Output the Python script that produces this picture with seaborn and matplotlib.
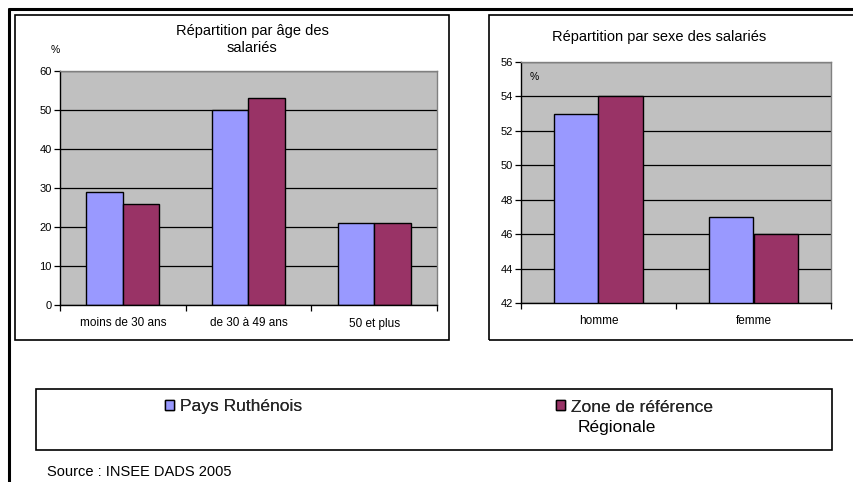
import matplotlib
matplotlib.use("Agg")
import matplotlib.pyplot as plt
import seaborn as sns
import pandas as pd
from matplotlib.patches import Rectangle, Patch
from matplotlib.lines import Line2D

# ---- data ----
series = ["Pays Ruthénois", "Zone de référence Régionale"]
age_categories = ["moins de 30 ans", "de 30 à 49 ans", "50 et plus"]
age_pays = [29, 50, 21]
age_zone = [26, 53, 21]
sexe_categories = ["homme", "femme"]
sexe_pays = [53, 47]
sexe_zone = [54, 46]
age_ticks = [0, 10, 20, 30, 40, 50, 60]
sexe_ticks = [42, 44, 46, 48, 50, 52, 54, 56]
colors = ["#9999FF", "#993366"]

sns.set_theme(style="white")
plt.rcParams["font.family"] = ["Liberation Sans", "DejaVu Sans"]

W, H = 854, 482
fig = plt.figure(figsize=(W / 100, H / 100), dpi=100)


def fax(x0, y0, x1, y1):
    return [x0 / W, (H - y1) / H, (x1 - x0) / W, (y1 - y0) / H]


def frect(x0, y0, x1, y1, lw=1.2, ec="black"):
    fig.patches.append(Rectangle((x0 / W, (H - y1) / H), (x1 - x0) / W, (y1 - y0) / H,
                                 transform=fig.transFigure, fill=False, ec=ec, lw=lw))


def fline(xs, ys, lw=1.2, c="black"):
    fig.lines.append(Line2D([x / W for x in xs], [(H - y) / H for y in ys],
                            transform=fig.transFigure, color=c, lw=lw))


# outer frame (top & left)
fline([8.5, 860], [8.5, 8.5], lw=2.2)
fline([8.5, 8.5], [8.5, 490], lw=2.2)
# chart boxes
frect(15, 15, 449, 340)
frect(489, 15, 900, 340)
# legend box
frect(36, 389, 832, 450)


def style_ax(ax, ticks, ncat):
    ax.set_facecolor("#C0C0C0")
    ax.set_yticks(ticks)
    ax.set_ylim(ticks[0], ticks[-1])
    ax.set_xlim(-0.5, ncat - 0.5)
    ax.grid(axis="y", color="black", lw=0.9)
    ax.set_axisbelow(True)
    ax.set_xlabel("")
    ax.set_ylabel("")
    for s in ["top", "right"]:
        ax.spines[s].set_color("#808080")
        ax.spines[s].set_linewidth(1.0)
    for s in ["left", "bottom"]:
        ax.spines[s].set_color("black")
        ax.spines[s].set_linewidth(1.0)
    ax.tick_params(axis="y", which="major", direction="out", length=4, width=0.9,
                   color="black", left=True, labelsize=8, pad=2, labelcolor="black")
    ax.tick_params(axis="x", which="major", length=0, labelsize=8.5, pad=9, labelcolor="black")
    ax.set_xticks([i - 0.5 for i in range(ncat + 1)], minor=True)
    ax.tick_params(axis="x", which="minor", direction="out", length=4, width=0.9,
                   color="black", bottom=True)


# left chart
df_age = pd.DataFrame({
    "cat": age_categories * 2,
    "val": age_pays + age_zone,
    "serie": [series[0]] * 3 + [series[1]] * 3,
})
ax1 = fig.add_axes(fax(60, 71, 437, 305))
sns.barplot(data=df_age, x="cat", y="val", hue="serie", palette=colors, width=0.58,
            gap=0, edgecolor="black", linewidth=1.0, saturation=1, legend=False, ax=ax1)
style_ax(ax1, age_ticks, 3)

# right chart
df_sexe = pd.DataFrame({
    "cat": sexe_categories * 2,
    "val": sexe_pays + sexe_zone,
    "serie": [series[0]] * 2 + [series[1]] * 2,
})
ax2 = fig.add_axes(fax(521, 62, 831, 303))
sns.barplot(data=df_sexe, x="cat", y="val", hue="serie", palette=colors, width=0.575,
            gap=0, edgecolor="black", linewidth=1.0, saturation=1, legend=False, ax=ax2)
style_ax(ax2, sexe_ticks, 2)

# titles and unit labels
fig.text(252 / W, 1 - 39.5 / H, "Répartition par âge des\nsalariés", ha="center", va="center",
         fontsize=10.5, linespacing=1.3, color="black")
fig.text(55 / W, 1 - 50 / H, "%", ha="center", va="center", fontsize=7.5, color="black")
fig.text(659 / W, 1 - 37 / H, "Répartition par sexe des salariés", ha="center", va="center",
         fontsize=10.5, color="black")
fig.text(534 / W, 1 - 77 / H, "%", ha="center", va="center", fontsize=7.5, color="black")

# legend
first_line = {series[0]: series[0], series[1]: "Zone de référence"}
for i, xpos in enumerate([165, 556]):
    leg = fig.legend(handles=[Patch(facecolor=colors[i], edgecolor="black", lw=1.0)],
                     labels=[first_line[series[i]]], loc="upper left",
                     bbox_to_anchor=(xpos / W, 1 - 399.5 / H), frameon=False,
                     fontsize=12.5, handlelength=0.5, handleheight=0.5, handletextpad=0.35,
                     borderpad=0, borderaxespad=0)
    fig.add_artist(leg)
fig.text(578 / W, 1 - 432 / H, "Régionale", ha="left", va="baseline", fontsize=12.5,
         color="black")

# source
fig.text(47 / W, 1 - 476 / H, "Source : INSEE DADS 2005", ha="left", va="baseline",
         fontsize=10.5, color="black")

fig.savefig("out.png", dpi=100, facecolor="white")
